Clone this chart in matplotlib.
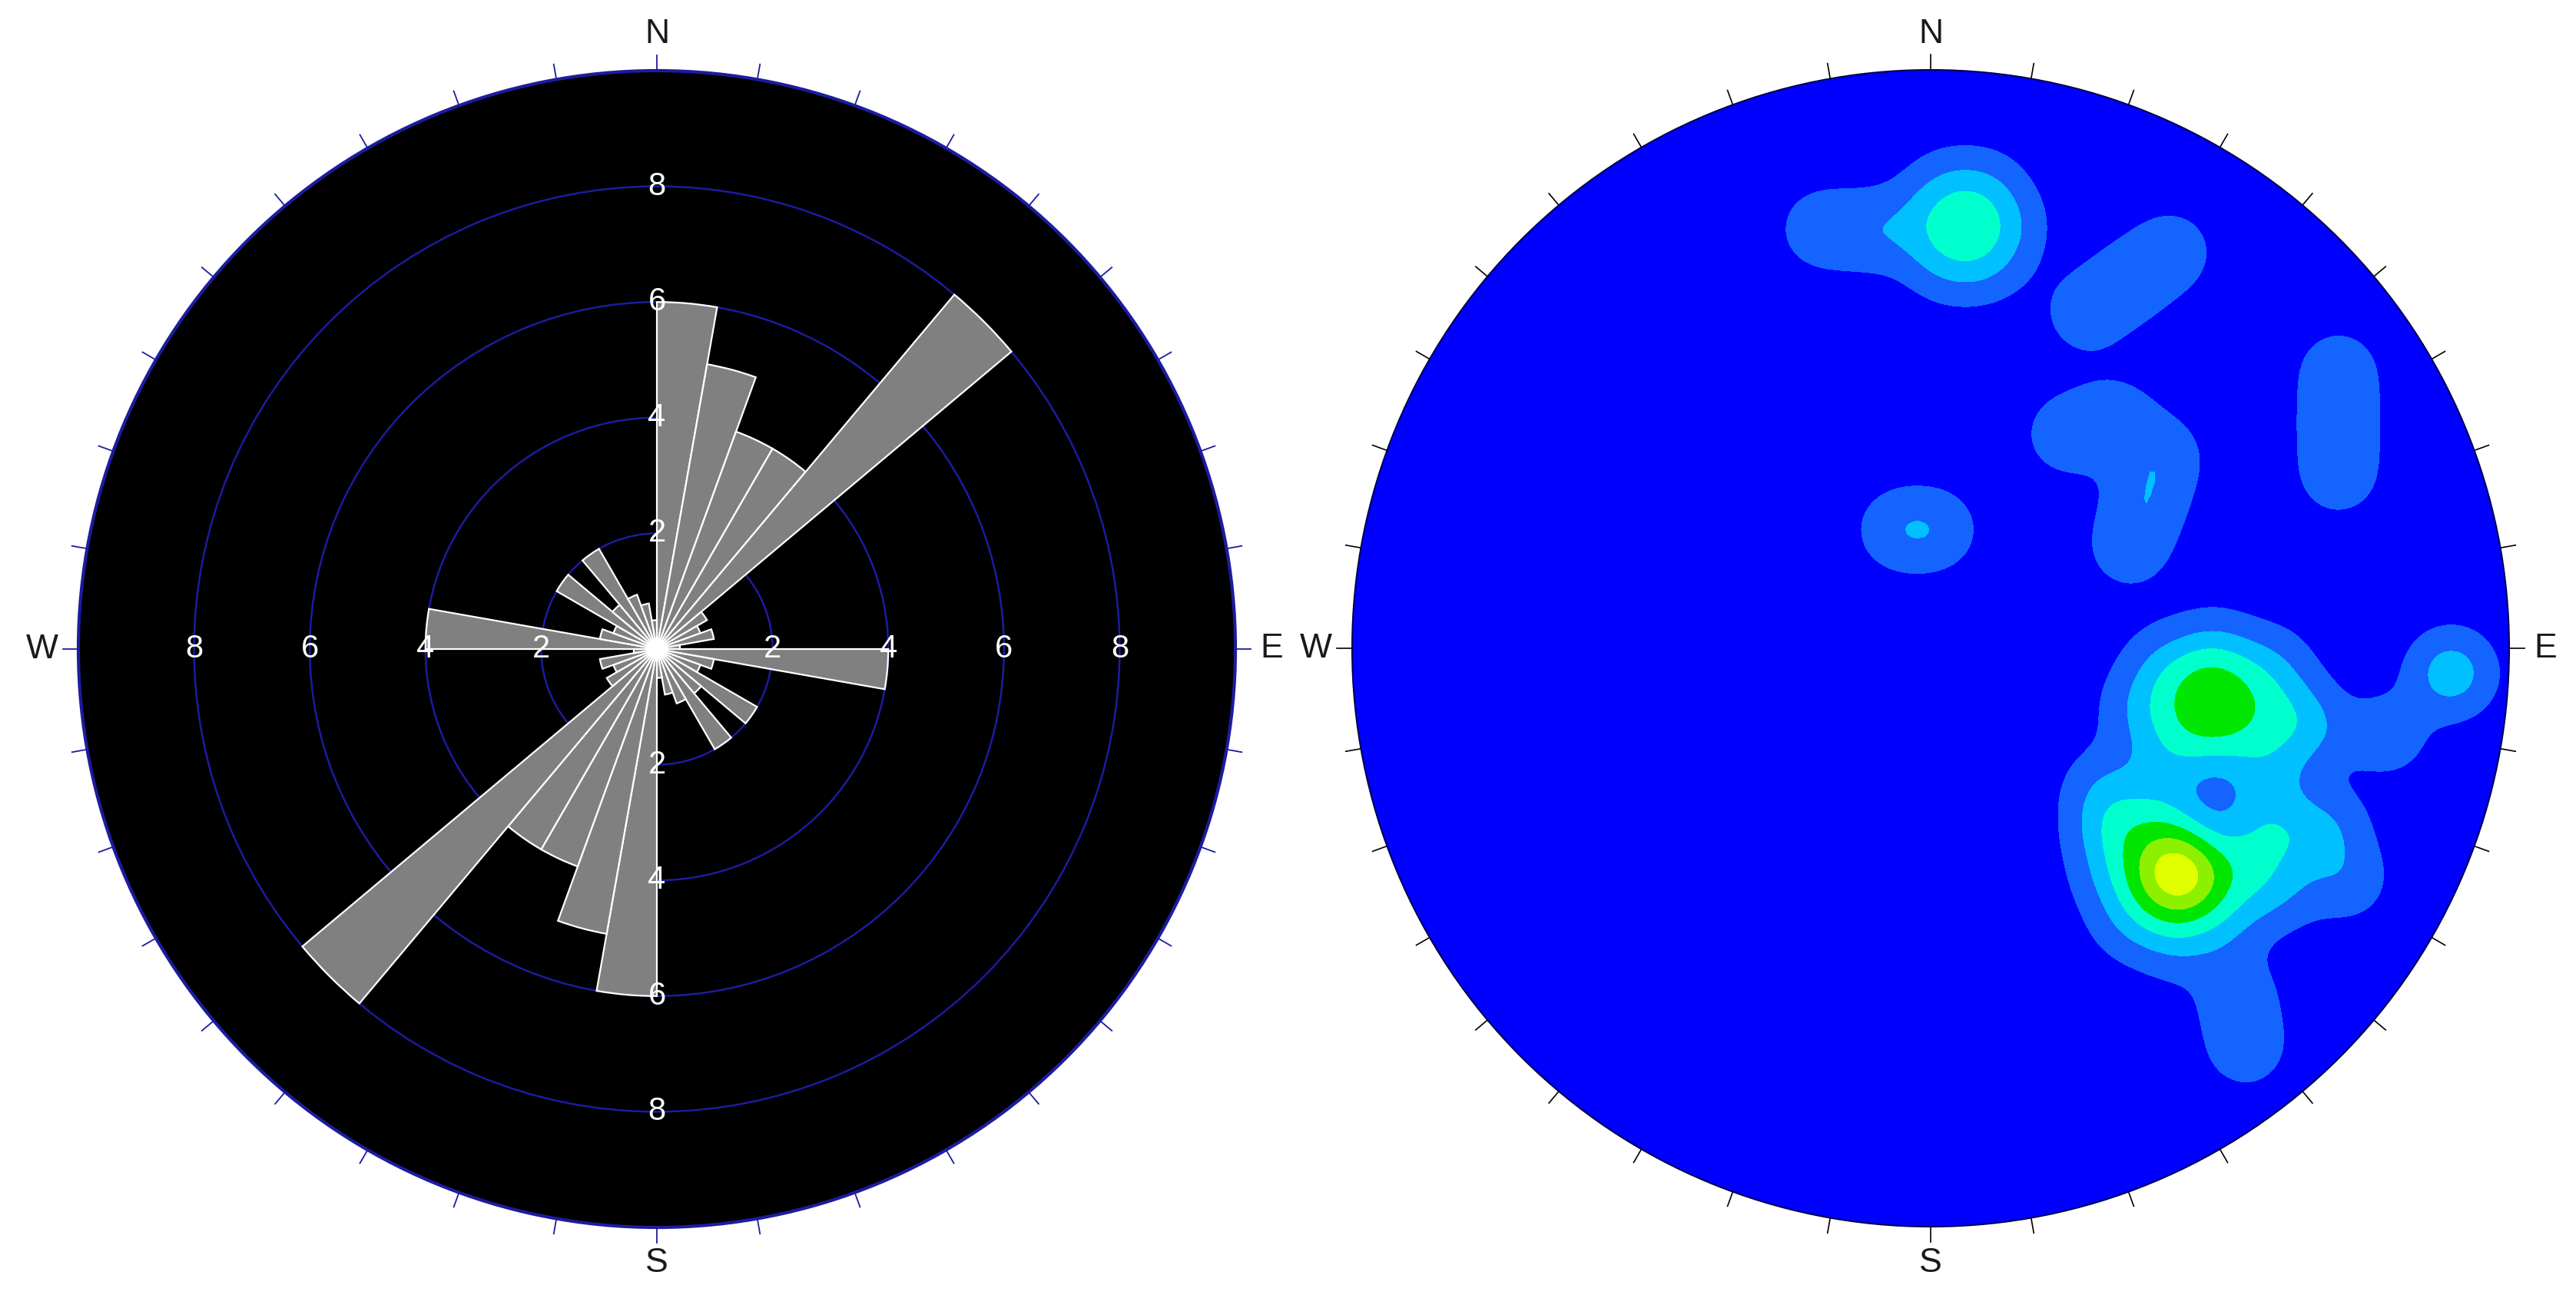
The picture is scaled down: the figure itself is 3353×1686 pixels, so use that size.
import numpy as np
import matplotlib
matplotlib.use("Agg")
import matplotlib.pyplot as plt
from matplotlib.patches import Circle

plt.rcParams["font.family"] = ["Liberation Sans", "DejaVu Sans"]

W_PX, H_PX, DPI = 3353, 1686, 100
R_PX = 753  # radius of both plot circles in pixels

# rose diagram: counts per 10 degree bin from 0 to 180, mirrored onto 180-360
BIN_STARTS = np.arange(0, 180, 10)
ROSE_COUNTS = [6, 5, 4, 4, 8, 1, 0.8, 1, 0.4, 4, 1, 0.8, 2, 1, 2, 1, 0.8, 0.5]
RING_VALUES = [2, 4, 6, 8]
ROSE_MAX = 10

# poles for the density plot (x east, y north, unit circle) and how many at each spot
POLE_X = [
    0.06, 0.13, 0.095, 0.025, -0.01, 0.025, 0.095, -0.10, -0.19,        # north cluster
    0.27, 0.343, 0.416,                                               # NE streak
    0.705, 0.705, 0.705,                                              # east streak
    0.40, 0.372, 0.344, 0.235, 0.32,                                  # middle east
    -0.058, 0.012,                                                    # centre
    0.90, 0.79,                                                       # east edge
    0.49, 0.55, 0.52, 0.46, 0.43, 0.46, 0.52,                         # SE upper peak
    0.62, 0.59, 0.49, 0.40, 0.36, 0.40, 0.59, 0.66,
    0.427, 0.477, 0.452, 0.402, 0.377, 0.402, 0.452,                  # SE lower peak
    0.542, 0.41, 0.346, 0.312, 0.346, 0.427, 0.508,
    0.56, 0.63, 0.69, 0.60, 0.72, 0.58, 0.30, 0.30,                   # SE spread
    0.53, 0.545,
]
POLE_Y = [
    0.73, 0.73, 0.791, 0.791, 0.73, 0.669, 0.669, 0.722, 0.725,
    0.58, 0.633, 0.686,
    0.30, 0.39, 0.48,
    0.332, 0.253, 0.174, 0.37, 0.395,
    0.205, 0.205,
    -0.043, -0.15,
    -0.105, -0.105, -0.053, -0.053, -0.105, -0.157, -0.157,
    -0.105, -0.03, 0.0, -0.03, -0.105, -0.19, -0.19, -0.14,
    -0.39, -0.39, -0.347, -0.347, -0.39, -0.433, -0.433,
    -0.39, -0.28, -0.309, -0.39, -0.471, -0.505, -0.471,
    -0.33, -0.33, -0.31, -0.42, -0.40, -0.26, -0.24, -0.31,
    -0.60, -0.69,
]
POLE_N = [
    1, 1, 1, 1, 1, 1, 1, 1, 1,
    1, 1, 1,
    1, 1, 1,
    1, 1, 1, 1, 1,
    1, 1,
    2, 1,
    1, 1, 1, 1, 1, 1, 1,
    1, 1, 1, 1, 1, 1, 1, 1,
    2, 1, 1, 1, 1, 1, 1,
    1, 1, 1, 1, 1, 1, 1,
    1, 1, 1, 1, 1, 1, 1, 1,
    1, 1,
]
KERNEL_SIGMA = 0.05
CONTOUR_LEVELS = [0.5, 1.5, 2.5, 3.5, 4.5, 5.5]
CONTOUR_COLORS = ["#0000ff", "#1464ff", "#00c0ff", "#00ffcc",
                  "#00e600", "#8cf000", "#e0ff00"]

DIRECTIONS = ["N", "E", "S", "W"]
DIRECTION_AZ = [0, 90, 180, 270]

NAVY = "#1c1ca0"
LABEL_GAP = 47   # pixels from circle edge to centre of N/E/S/W
TICK_PX = 20     # length of the outside ticks


def axes_rect(cx, cy, half):
    return [(cx - half) / W_PX, (H_PX - cy - half) / H_PX,
            2 * half / W_PX, 2 * half / H_PX]


fig = plt.figure(figsize=(W_PX / DPI, H_PX / DPI), dpi=DPI)

# ---- left: rose diagram ----
ax1 = fig.add_axes(axes_rect(855, 845, R_PX), projection="polar")
ax1.set_theta_zero_location("N")
ax1.set_theta_direction(-1)
ax1.set_facecolor("black")

theta = np.deg2rad(np.concatenate([BIN_STARTS, BIN_STARTS + 180]))
counts = np.concatenate([ROSE_COUNTS, ROSE_COUNTS])
ax1.bar(theta, counts, width=np.deg2rad(10), align="edge",
        color="#808080", edgecolor="white", linewidth=1.6, zorder=3)

ax1.set_ylim(0, ROSE_MAX)
ax1.set_yticks(RING_VALUES)
ax1.set_yticklabels([])
ax1.set_xticks([])
ax1.xaxis.grid(False)
ax1.yaxis.grid(True, color=NAVY, linewidth=1.8)
ax1.set_axisbelow(True)
ax1.spines["polar"].set_color(NAVY)
ax1.spines["polar"].set_linewidth(3)

# ticks every 10 degrees outside the circle
r_tick = ROSE_MAX * (1 + TICK_PX / R_PX)
for az in range(0, 360, 10):
    a = np.deg2rad(az)
    ax1.plot([a, a], [ROSE_MAX, r_tick], color=NAVY, linewidth=1.3,
             clip_on=False)

for az in DIRECTION_AZ:
    for v in RING_VALUES:
        ax1.text(np.deg2rad(az), v, str(v), color="white", fontsize=30,
                 ha="center", va="center", zorder=6)

r_lab = ROSE_MAX * (1 + LABEL_GAP / R_PX)
for d, az in zip(DIRECTIONS, DIRECTION_AZ):
    ax1.text(np.deg2rad(az), r_lab, d, color="#1a1a1a", fontsize=32,
             ha="center", va="center", clip_on=False)

# ---- right: pole density contours ----
lim = 1.12
ax2 = fig.add_axes(axes_rect(2513, 844, R_PX * lim))
ax2.set_xlim(-lim, lim)
ax2.set_ylim(-lim, lim)
ax2.axis("off")

g = np.linspace(-1, 1, 301)
X, Y = np.meshgrid(g, g)
dens = np.zeros_like(X)
for px, py, n in zip(POLE_X, POLE_Y, POLE_N):
    dens += n * np.exp(-((X - px) ** 2 + (Y - py) ** 2) / (2 * KERNEL_SIGMA ** 2))

levels = [-1] + CONTOUR_LEVELS + [max(dens.max(), CONTOUR_LEVELS[-1]) + 1]
cf = ax2.contourf(X, Y, dens, levels=levels, colors=CONTOUR_COLORS)
disk = Circle((0, 0), 1, facecolor="none", edgecolor="#000050",
              linewidth=1.5, zorder=4)
ax2.add_patch(disk)
cf.set_clip_path(disk)

t_out = 1 + TICK_PX / R_PX
for az in range(0, 360, 10):
    a = np.deg2rad(az)
    ax2.plot([np.sin(a), t_out * np.sin(a)], [np.cos(a), t_out * np.cos(a)],
             color="black", linewidth=1.2, clip_on=False)

for d, az in zip(DIRECTIONS, DIRECTION_AZ):
    a = np.deg2rad(az)
    rr = 1 + LABEL_GAP / R_PX
    ax2.text(rr * np.sin(a), rr * np.cos(a), d, color="#1a1a1a", fontsize=32,
             ha="center", va="center", clip_on=False)

fig.savefig("out.png", dpi=DPI, facecolor="white")
